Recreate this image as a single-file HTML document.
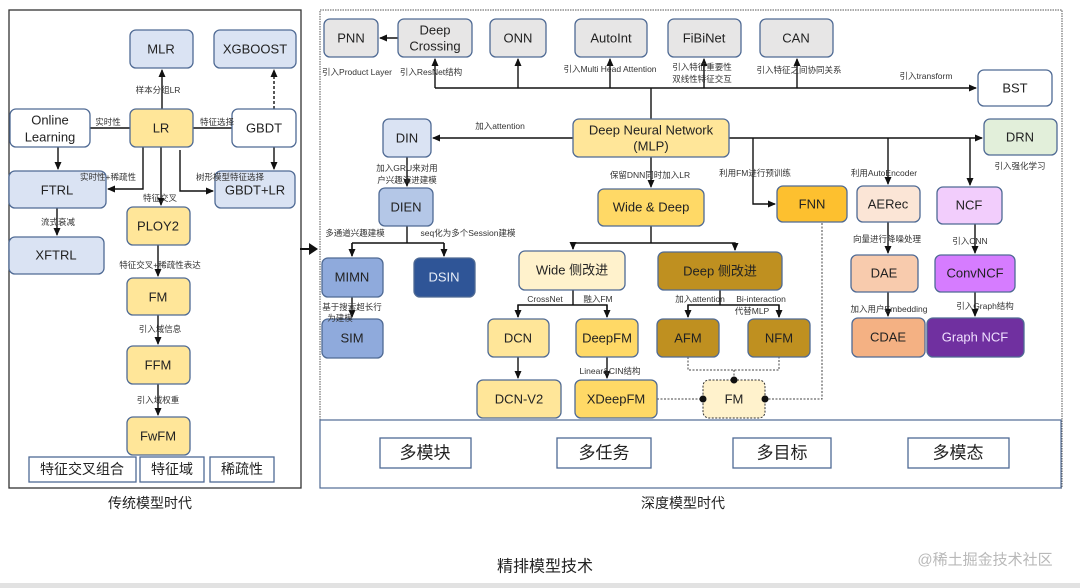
<!DOCTYPE html>
<html><head><meta charset="utf-8"><style>
body{margin:0;background:#fff;width:1080px;height:588px;overflow:hidden}
svg{display:block;font-family:"Liberation Sans","Noto Sans CJK SC",sans-serif}
.n{stroke:#4f6a94;stroke-width:1.3}
.t{font-size:13px;text-anchor:middle;dominant-baseline:central;fill:#222}
.s{font-size:8.5px;text-anchor:middle;fill:#333}
.l{stroke:#111;stroke-width:1.4;fill:none}
.d{stroke:#444;stroke-width:1;fill:none;stroke-dasharray:2 1.5}
</style></head><body>
<svg width="1080" height="588" viewBox="0 0 1080 588">
<defs><marker id="a" markerWidth="8" markerHeight="8" refX="7" refY="4" orient="auto" markerUnits="userSpaceOnUse"><path d="M0,0.5L8,4L0,7.5z" fill="#111"/></marker></defs>
<rect x="0" y="583" width="1080" height="5" fill="#e2e2e2"/>
<!-- left panel -->
<rect x="9" y="10" width="292" height="478" fill="none" stroke="#333" stroke-width="1.3"/>
<g class="l">
<path d="M162,109V70" marker-end="url(#a)"/>
<path d="M90,128H130M193,128H232"/>
<path d="M274,109V70" stroke-dasharray="3 2" marker-end="url(#a)"/>
<path d="M274,147V169" marker-end="url(#a)"/>
<path d="M58,147V169" marker-end="url(#a)"/>
<path d="M143,147V189H108" marker-end="url(#a)"/>
<path d="M161,147V205" marker-end="url(#a)"/>
<path d="M180,150V191H213" marker-end="url(#a)"/>
<path d="M57,208V235" marker-end="url(#a)"/>
<path d="M158,245V276" marker-end="url(#a)"/>
<path d="M158,315V344" marker-end="url(#a)"/>
<path d="M158,384V415" marker-end="url(#a)"/>
</g>
<g class="n">
<rect x="130" y="30" width="63" height="38" rx="6" fill="#dae3f3"/>
<rect x="214" y="30" width="82" height="38" rx="6" fill="#dae3f3"/>
<rect x="10" y="109" width="80" height="38" rx="6" fill="#fff"/>
<rect x="130" y="109" width="63" height="38" rx="6" fill="#ffe699"/>
<rect x="232" y="109" width="64" height="38" rx="6" fill="#fff"/>
<rect x="9" y="171" width="97" height="37" rx="6" fill="#dae3f3"/>
<rect x="215" y="171" width="80" height="37" rx="6" fill="#dae3f3"/>
<rect x="127" y="207" width="63" height="38" rx="6" fill="#ffe699"/>
<rect x="9" y="237" width="95" height="37" rx="6" fill="#dae3f3"/>
<rect x="127" y="278" width="63" height="37" rx="6" fill="#ffe699"/>
<rect x="127" y="346" width="63" height="38" rx="6" fill="#ffe699"/>
<rect x="127" y="417" width="63" height="38" rx="6" fill="#ffe699"/>
<rect x="29" y="457" width="107" height="25" fill="#fff"/>
<rect x="140" y="457" width="64" height="25" fill="#fff"/>
<rect x="210" y="457" width="64" height="25" fill="#fff"/>
</g>
<g class="t">
<text x="161" y="49">MLR</text><text x="255" y="49">XGBOOST</text>
<text x="50" y="120">Online</text><text x="50" y="137">Learning</text>
<text x="161" y="128">LR</text><text x="264" y="128">GBDT</text>
<text x="57" y="190">FTRL</text><text x="255" y="190">GBDT+LR</text>
<text x="158" y="226">PLOY2</text><text x="56" y="255">XFTRL</text>
<text x="158" y="297">FM</text><text x="158" y="365">FFM</text><text x="158" y="436">FwFM</text>
<text x="82" y="469" style="font-size:14px">特征交叉组合</text>
<text x="172" y="469" style="font-size:14px">特征域</text>
<text x="242" y="469" style="font-size:14px">稀疏性</text>
<text x="150" y="503" style="font-size:14px">传统模型时代</text>
</g>
<g class="s">
<text x="158" y="93">样本分组LR</text><text x="108" y="125">实时性</text><text x="217" y="125">特征选择</text>
<text x="108" y="180">实时性+稀疏性</text><text x="160" y="201">特征交叉</text><text x="230" y="180">树形模型特征选择</text>
<text x="58" y="225">流式衰减</text><text x="160" y="268">特征交叉+稀疏性表达</text>
<text x="160" y="332">引入域信息</text><text x="158" y="403">引入域权重</text>
</g>
<path d="M300,249H310" stroke="#111" stroke-width="2"/><path d="M309,243L318,249L309,255z" fill="#111"/>
<!-- right panel -->
<rect x="320" y="10" width="742" height="478" fill="none" stroke="#555" stroke-dasharray="1.5 1"/>
<rect x="320" y="420" width="741" height="68" fill="none" stroke="#4f6a94" stroke-width="1.2"/>
<g class="l">
<path d="M398,38H380" marker-end="url(#a)"/>
<path d="M651,119V88"/>
<path d="M435,88H976" marker-end="url(#a)"/>
<path d="M435,88V59" marker-end="url(#a)"/>
<path d="M518,88V59" marker-end="url(#a)"/>
<path d="M610,88V59" marker-end="url(#a)"/>
<path d="M704,88V59" marker-end="url(#a)"/>
<path d="M797,88V59" marker-end="url(#a)"/>
<path d="M573,138H433" marker-end="url(#a)"/>
<path d="M729,138H982" marker-end="url(#a)"/>
<path d="M753,138V204H775" marker-end="url(#a)"/>
<path d="M888,138V184" marker-end="url(#a)"/>
<path d="M970,138V185" marker-end="url(#a)"/>
<path d="M651,157V187" marker-end="url(#a)"/>
<path d="M407,157V186" marker-end="url(#a)"/>
<path d="M407,226V243M352,243H444M352,243V256M444,243V256"/>
<path d="M352,243V256" marker-end="url(#a)"/><path d="M444,243V256" marker-end="url(#a)"/>
<path d="M352,297V317" marker-end="url(#a)"/>
<path d="M651,226V243H573V249M651,243H735V250"/>
<path d="M573,243V249" marker-end="url(#a)"/><path d="M735,243V250" marker-end="url(#a)"/>
<path d="M573,290V305H518V317M573,305H607V317"/>
<path d="M518,305V317" marker-end="url(#a)"/><path d="M607,305V317" marker-end="url(#a)"/>
<path d="M720,290V305H688V317M720,305H779V317"/>
<path d="M688,305V317" marker-end="url(#a)"/><path d="M779,305V317" marker-end="url(#a)"/>
<path d="M518,357V378" marker-end="url(#a)"/>
<path d="M607,357V378" marker-end="url(#a)"/>
<path d="M888,222V253" marker-end="url(#a)"/><path d="M888,292V316" marker-end="url(#a)"/>
<path d="M975,224V253" marker-end="url(#a)"/><path d="M975,292V316" marker-end="url(#a)"/>
</g>
<g class="d">
<path d="M688,357V370H779V357M734,370V380"/>
<path d="M657,399H703M765,399H822V222"/>
</g>
<g class="n">
<rect x="324" y="19" width="54" height="38" rx="6" fill="#e7e6e6"/>
<rect x="398" y="19" width="74" height="38" rx="6" fill="#e7e6e6"/>
<rect x="490" y="19" width="56" height="38" rx="6" fill="#e7e6e6"/>
<rect x="575" y="19" width="72" height="38" rx="6" fill="#e7e6e6"/>
<rect x="668" y="19" width="73" height="38" rx="6" fill="#e7e6e6"/>
<rect x="760" y="19" width="73" height="38" rx="6" fill="#e7e6e6"/>
<rect x="978" y="70" width="74" height="36" rx="6" fill="#fff"/>
<rect x="573" y="119" width="156" height="38" rx="6" fill="#ffe699"/>
<rect x="383" y="119" width="48" height="38" rx="6" fill="#dae3f3"/>
<rect x="984" y="119" width="73" height="36" rx="6" fill="#e2efda"/>
<rect x="777" y="186" width="70" height="36" rx="6" fill="#fdc02f"/>
<rect x="857" y="186" width="63" height="36" rx="6" fill="#fbe5d6"/>
<rect x="937" y="187" width="65" height="37" rx="6" fill="#f2cdfc"/>
<rect x="598" y="189" width="106" height="37" rx="6" fill="#ffd966"/>
<rect x="379" y="188" width="54" height="38" rx="6" fill="#b4c7e7"/>
<rect x="322" y="258" width="61" height="39" rx="6" fill="#8faadc"/>
<rect x="414" y="258" width="61" height="39" rx="6" fill="#2f5597"/>
<rect x="322" y="319" width="61" height="39" rx="6" fill="#8faadc"/>
<rect x="519" y="251" width="106" height="39" rx="6" fill="#fff2cc"/>
<rect x="658" y="252" width="124" height="38" rx="6" fill="#bf9020"/>
<rect x="488" y="319" width="61" height="38" rx="6" fill="#ffe699"/>
<rect x="576" y="319" width="62" height="38" rx="6" fill="#ffd966"/>
<rect x="657" y="319" width="62" height="38" rx="6" fill="#bf9020"/>
<rect x="748" y="319" width="62" height="38" rx="6" fill="#bf9020"/>
<rect x="477" y="380" width="84" height="38" rx="6" fill="#ffe699"/>
<rect x="575" y="380" width="82" height="38" rx="6" fill="#ffd966"/>
<rect x="851" y="255" width="67" height="37" rx="6" fill="#f8cbad"/>
<rect x="935" y="255" width="80" height="37" rx="6" fill="#d67cff"/>
<rect x="852" y="318" width="73" height="39" rx="6" fill="#f4b183"/>
<rect x="927" y="318" width="97" height="39" rx="6" fill="#7030a0"/>
<rect x="380" y="438" width="91" height="30" fill="#fff"/>
<rect x="557" y="438" width="94" height="30" fill="#fff"/>
<rect x="733" y="438" width="98" height="30" fill="#fff"/>
<rect x="908" y="438" width="101" height="30" fill="#fff"/>
</g>
<rect x="703" y="380" width="62" height="38" rx="6" fill="#fff2cc" stroke="#333" stroke-dasharray="2 1.5"/>
<g fill="#111"><circle cx="734" cy="380" r="3.5"/><circle cx="703" cy="399" r="3.5"/><circle cx="765" cy="399" r="3.5"/></g>
<g class="t">
<text x="351" y="38">PNN</text><text x="435" y="30">Deep</text><text x="435" y="46">Crossing</text>
<text x="518" y="38">ONN</text><text x="611" y="38">AutoInt</text><text x="704" y="38">FiBiNet</text><text x="796" y="38">CAN</text>
<text x="1015" y="88">BST</text>
<text x="651" y="130">Deep Neural Network</text><text x="651" y="146">(MLP)</text>
<text x="407" y="138">DIN</text><text x="1020" y="137">DRN</text>
<text x="812" y="204">FNN</text><text x="888" y="204">AERec</text><text x="969" y="205">NCF</text>
<text x="651" y="207">Wide &amp; Deep</text><text x="406" y="207">DIEN</text>
<text x="352" y="277">MIMN</text><text x="444" y="277" fill="#e8eef8">DSIN</text><text x="352" y="338">SIM</text>
<text x="572" y="270">Wide 侧改进</text><text x="720" y="271">Deep 侧改进</text>
<text x="518" y="338">DCN</text><text x="607" y="338">DeepFM</text><text x="688" y="338">AFM</text><text x="779" y="338">NFM</text>
<text x="519" y="399">DCN-V2</text><text x="616" y="399">XDeepFM</text><text x="734" y="399">FM</text>
<text x="884" y="273">DAE</text><text x="975" y="273">ConvNCF</text>
<text x="888" y="337">CDAE</text><text x="975" y="337" fill="#f0e0ff">Graph NCF</text>
<text x="425" y="453" style="font-size:17px">多模块</text><text x="604" y="453" style="font-size:17px">多任务</text>
<text x="782" y="453" style="font-size:17px">多目标</text><text x="958" y="453" style="font-size:17px">多模态</text>
<text x="683" y="503" style="font-size:14px">深度模型时代</text>
<text x="545" y="567" style="font-size:16px">精排模型技术</text>
<text x="985" y="560" style="font-size:15px" fill="#b8b8b8">@稀土掘金技术社区</text>
</g>
<g class="s">
<text x="357" y="75">引入Product Layer</text><text x="431" y="75">引入ResNet结构</text>
<text x="610" y="72">引入Multi Head Attention</text>
<text x="702" y="70">引入特征重要性</text><text x="702" y="82">双线性特征交互</text>
<text x="799" y="73">引入特征之间协同关系</text><text x="926" y="79">引入transform</text>
<text x="500" y="129">加入attention</text><text x="1020" y="169">引入强化学习</text>
<text x="755" y="176">利用FM进行预训练</text><text x="884" y="176">利用AutoEncoder</text>
<text x="650" y="178">保留DNN同时加入LR</text>
<text x="407" y="171">加入GRU来对用</text><text x="407" y="183">户兴趣演进建模</text>
<text x="355" y="236">多通道兴趣建模</text><text x="468" y="236">seq化为多个Session建模</text>
<text x="352" y="310">基于搜索超长行</text><text x="340" y="321">为建模</text>
<text x="545" y="302">CrossNet</text><text x="598" y="302">融入FM</text>
<text x="700" y="302">加入attention</text><text x="761" y="302">Bi-interaction</text><text x="752" y="314">代替MLP</text>
<text x="610" y="374">Linear&amp;CIN结构</text>
<text x="887" y="242">向量进行降噪处理</text><text x="970" y="244">引入CNN</text>
<text x="889" y="312">加入用户Embedding</text><text x="985" y="309">引入Graph结构</text>
</g>
</svg>
</body></html>
